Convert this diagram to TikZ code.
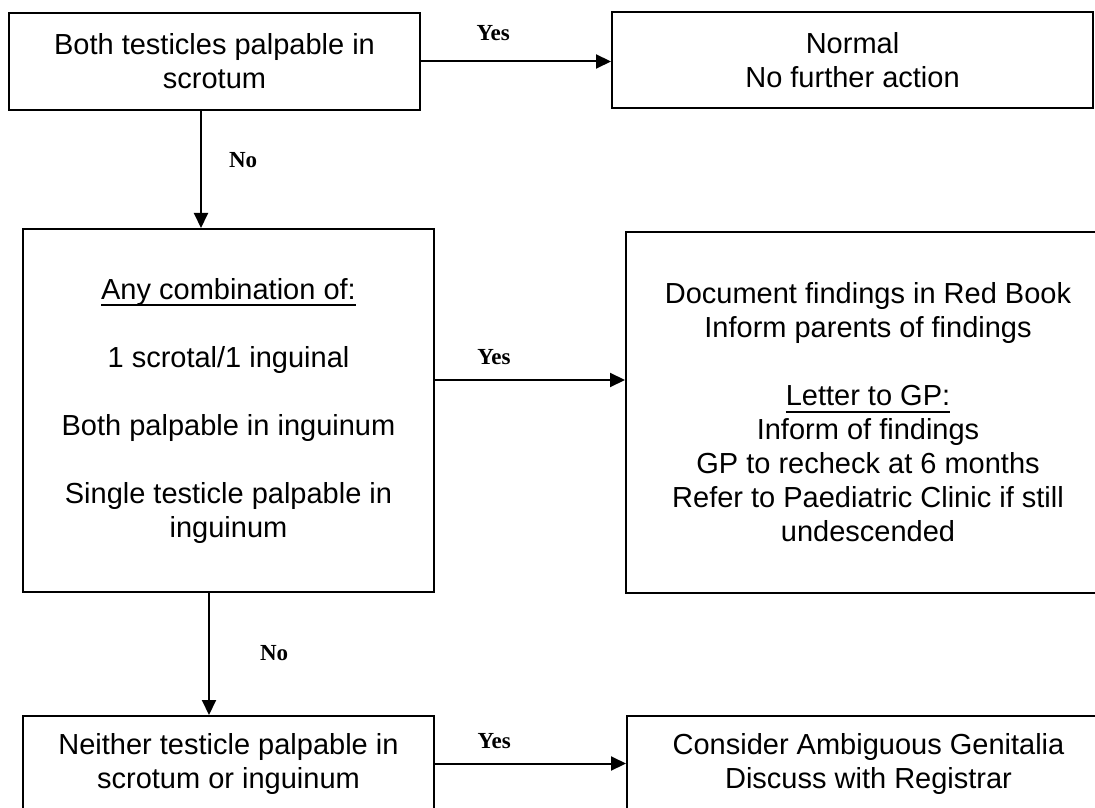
\documentclass[tikz,border=0pt]{standalone}
\usepackage{fontspec}
\setmainfont{Liberation Sans}
\newfontfamily\lblfont{Liberation Serif}
\usetikzlibrary{arrows.meta}
\newcommand{\undl}[1]{\leavevmode\setbox0=\hbox{#1}\rlap{\rule[-3.5pt]{\wd0}{1pt}}\box0}

\begin{document}
\begin{tikzpicture}[x=0.5pt, y=-0.5pt,
 box/.style={draw, line width=1pt, inner sep=0pt, align=center,
  font=\fontsize{14.5}{17}\selectfont},
 lbl/.style={inner sep=0pt, font=\lblfont\bfseries\fontsize{11.5}{13}\selectfont},
 arr/.style={line width=1pt, -{Triangle[length=7.5pt, width=7pt]}}]

  \useasboundingbox (0,0) rectangle (1095,807);
  \clip (0,0) rectangle (1095,807);

  \node[box, minimum width=205.5pt, minimum height=48.5pt] (1) at (214.5,61.5)
   {Both testicles palpable in\\ scrotum};
  \node[box, minimum width=240.5pt, minimum height=48pt] (2) at (852.5,60)
   {Normal\\ No further action};
  \node[box, minimum width=205.5pt, minimum height=181.5pt] (3) at (228.5,410.5)
   {\undl{Any combination of:}\\[17pt] 1 scrotal/1 inguinal\\[17pt]
    Both palpable in inguinum\\[17pt] Single testicle palpable in\\ inguinum};
  \node[box, minimum width=242pt, minimum height=180.5pt] (4) at (868,412.5)
   {Document findings in Red Book\\ Inform parents of findings\\[17pt]
    \undl{Letter to GP:}\\ Inform of findings\\ GP to recheck at 6 months\\
    Refer to Paediatric Clinic if still\\ undescended};
  \node[box, minimum width=205.5pt, minimum height=47.5pt] (5) at (228.5,763.5)
   {Neither testicle palpable in\\ scrotum or inguinum};
  \node[box, minimum width=241.5pt, minimum height=47.5pt] (6) at (868.5,763.5)
   {Consider Ambiguous Genitalia\\ Discuss with Registrar};

  % yes branches
  \foreach \s/\t/\dy/\p/\h in {1/2/0/.38/10, 3/4/15.25/.31/7, 5/6/0/.31/7} {
   \path ([yshift=\dy pt]\s.east) coordinate (y\s);
   \draw[arr] (y\s) -- (y\s -| \t.west) node[lbl, pos=\p, above=\h pt] {Yes};}

  % no branches
  \foreach \s/\t/\dx/\p/\h in {1/3/-6.75/.42/13.5, 3/5/-9.75/.49/25} {
   \path ([xshift=\dx pt]\s.south) coordinate (n\s);
   \draw[arr] (n\s) -- (n\s |- \t.north) node[lbl, pos=\p, right=\h pt] {No};}
\end{tikzpicture}
\end{document}
